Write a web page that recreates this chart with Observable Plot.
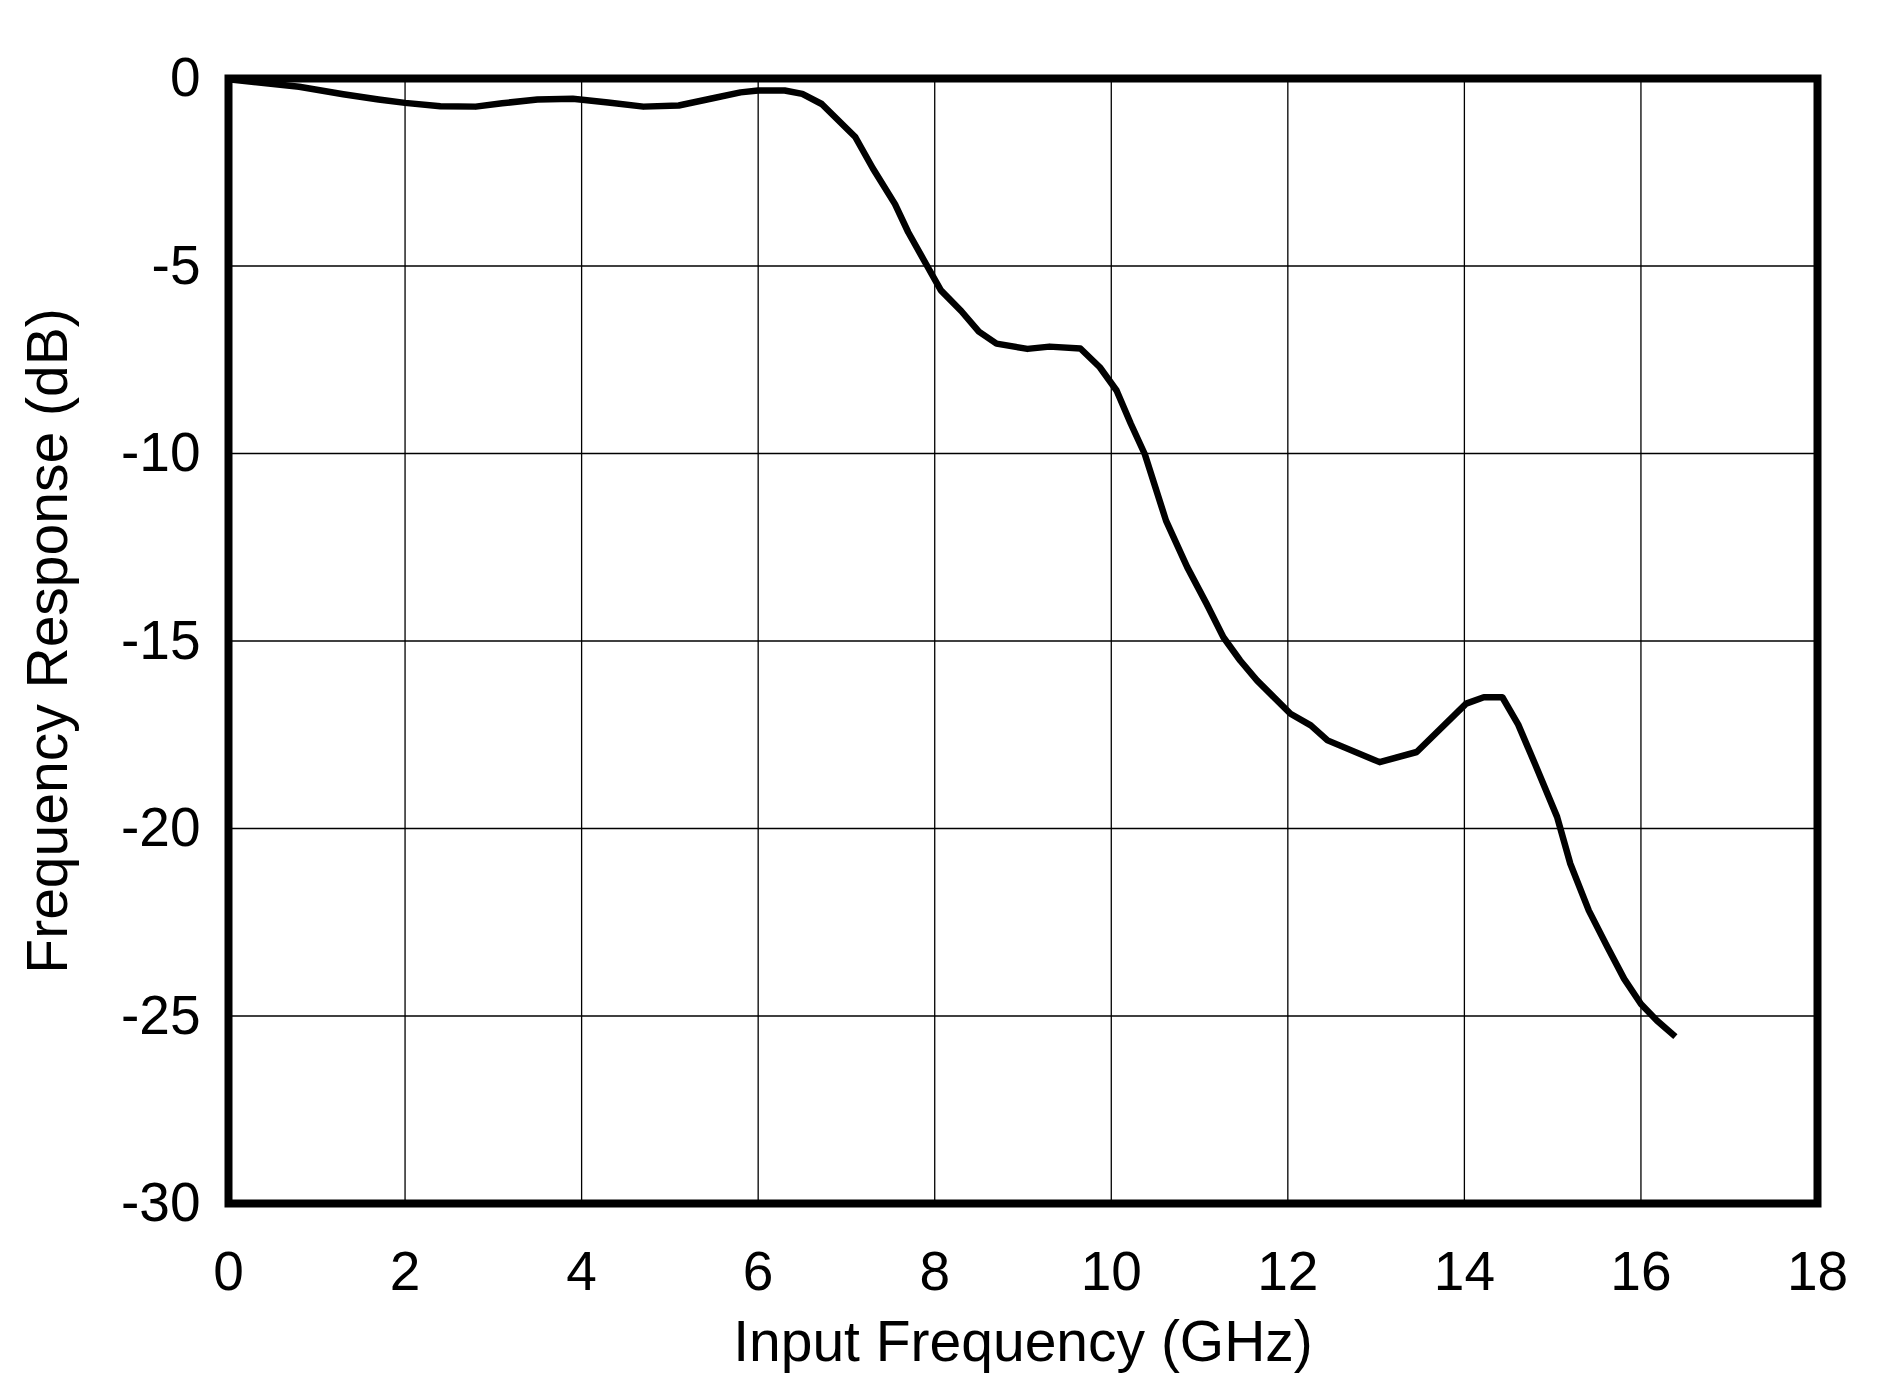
<!DOCTYPE html>
<html>
<head>
<meta charset="utf-8">
<script src="https://cdn.jsdelivr.net/npm/d3@7"></script>
<script src="https://cdn.jsdelivr.net/npm/@observablehq/plot@0.6"></script>
<style>
  html, body { margin: 0; padding: 0; background: #fff; }
  #chart svg { display: block; }
</style>
</head>
<body>
<div id="chart"></div>
<script>
const freqGHz = [0, 0.4, 0.8, 1.3, 1.7, 2.0, 2.4, 2.8, 3.1, 3.5, 3.9, 4.3, 4.7, 5.1, 5.5, 5.8, 6.0, 6.3, 6.5, 6.72,
  7.1, 7.3, 7.55, 7.7, 7.9, 8.07, 8.3, 8.5, 8.7, 9.05, 9.3, 9.65, 9.87, 10.06, 10.22, 10.38, 10.62, 10.86, 11.08,
  11.27, 11.46, 11.65, 12.03, 12.26, 12.45, 13.04, 13.46, 14.02, 14.22, 14.43, 14.61, 14.8, 15.05, 15.2, 15.41,
  15.62, 15.81, 16.0, 16.18, 16.39];
const responseDB = [-0.02, -0.12, -0.22, -0.42, -0.56, -0.65, -0.74, -0.75, -0.66, -0.56, -0.54, -0.64, -0.75, -0.72, -0.52, -0.37, -0.32, -0.32, -0.41, -0.68,
  -1.56, -2.4, -3.35, -4.1, -4.94, -5.65, -6.2, -6.75, -7.07, -7.21, -7.15, -7.2, -7.7, -8.32, -9.2, -10.02, -11.79, -13.03, -14.01,
  -14.9, -15.52, -16.05, -16.94, -17.25, -17.65, -18.23, -17.96, -16.67, -16.5, -16.5, -17.23, -18.28, -19.69, -20.94, -22.19,
  -23.16, -24.01, -24.68, -25.12, -25.55];
const xTicks = [0, 2, 4, 6, 8, 10, 12, 14, 16, 18];
const yTicks = [0, -5, -10, -15, -20, -25, -30];
const xTitle = "Input Frequency (GHz)";
const yTitle = "Frequency Response (dB)";

const data = freqGHz.map((f, i) => ({f, r: responseDB[i]}));

const chart = Plot.plot({
  width: 1886,
  height: 1382,
  marginLeft: 228,
  marginRight: 69,
  marginTop: 78,
  marginBottom: 179,
  style: {fontFamily: "'Liberation Sans', Arial, sans-serif", background: "#fff", color: "#000"},
  x: {domain: [0, 18]},
  y: {domain: [-30, 0]},
  marks: [
    Plot.gridX(xTicks, {stroke: "#000", strokeOpacity: 1, strokeWidth: 1.3}),
    Plot.gridY(yTicks, {stroke: "#000", strokeOpacity: 1, strokeWidth: 1.3}),
    Plot.line(data, {x: "f", y: "r", stroke: "#000", strokeWidth: 6.5, strokeLinejoin: "round", strokeLinecap: "butt"}),
    Plot.frame({stroke: "#000", strokeWidth: 8}),
    Plot.axisX(xTicks, {tickSize: 0, tickPadding: 47, fontSize: 55, label: null, tickFormat: d => String(d)}),
    Plot.axisY(yTicks, {tickSize: 0, tickPadding: 28, fontSize: 55, label: null, tickFormat: d => String(d)}),
    Plot.text([xTitle], {frameAnchor: "bottom", dy: 157, lineAnchor: "bottom", textAnchor: "middle", fontSize: 57, fill: "#000"}),
    Plot.text([yTitle], {frameAnchor: "left", dx: -162, rotate: -90, lineAnchor: "bottom", textAnchor: "middle", fontSize: 57, fill: "#000"})
  ]
});
document.getElementById("chart").appendChild(chart);
</script>
</body>
</html>
